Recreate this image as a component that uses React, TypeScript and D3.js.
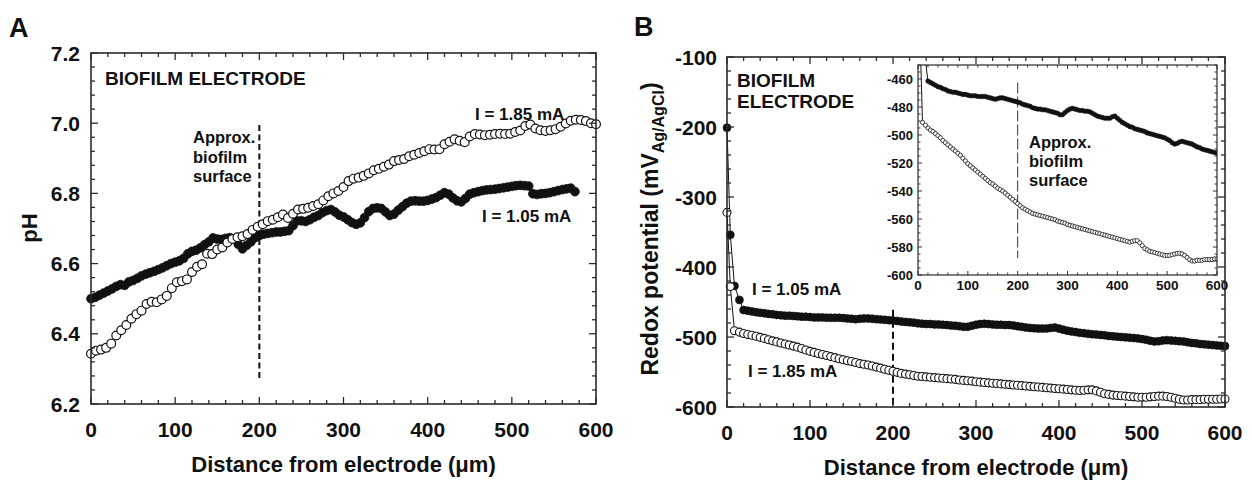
import React from "react";
import * as d3 from "d3";

const FONT = 'Arial, "Liberation Sans", Helvetica, sans-serif';

// ---------- Panel A: pH profiles ----------
const phOpenDistance = [
  0, 6, 12, 18, 24, 30, 36, 42, 48, 54,
  60, 66, 72, 78, 84, 90, 96, 102, 108, 114,
  120, 126, 132, 138, 144, 150, 156, 162, 168, 174,
  180, 186, 192, 198, 204, 210, 216, 222, 228, 234,
  240, 246, 252, 258, 264, 270, 276, 282, 288, 294,
  300, 306, 312, 318, 324, 330, 336, 342, 348, 354,
  360, 366, 372, 378, 384, 390, 396, 402, 408, 414,
  420, 426, 432, 438, 444, 450, 456, 462, 468, 474,
  480, 486, 492, 498, 504, 510, 516, 522, 528, 534,
  540, 546, 552, 558, 564, 570, 576, 582, 588, 594,
  600,
];
// I = 1.85 mA (open circles)
const phOpen = [
  6.343, 6.352, 6.355, 6.36, 6.372, 6.395, 6.41, 6.425, 6.443, 6.456,
  6.466, 6.485, 6.491, 6.49, 6.498, 6.508, 6.53, 6.547, 6.55, 6.555,
  6.576, 6.591, 6.598, 6.628, 6.627, 6.64, 6.646, 6.66, 6.67, 6.675,
  6.678, 6.684, 6.696, 6.705, 6.712, 6.721, 6.725, 6.732, 6.74, 6.73,
  6.742, 6.754, 6.756, 6.759, 6.764, 6.769, 6.78, 6.792, 6.8, 6.807,
  6.818, 6.835, 6.842, 6.845, 6.85, 6.857, 6.866, 6.87, 6.876, 6.882,
  6.892, 6.895, 6.898, 6.906, 6.91, 6.915, 6.92, 6.926, 6.925, 6.926,
  6.94, 6.947, 6.954, 6.95, 6.946, 6.962, 6.969, 6.968, 6.966, 6.967,
  6.969, 6.97, 6.969, 6.97, 6.975, 6.979, 6.992, 6.996, 6.985, 6.98,
  6.978, 6.98, 6.983, 6.99, 6.999, 7.007, 7.01, 7.009, 7.006, 7.0,
  6.997,
];
const phFilledDistance = [
  0, 5, 10, 15, 20, 25, 30, 35, 40, 45,
  50, 55, 60, 65, 70, 75, 80, 85, 90, 95,
  100, 105, 110, 115, 120, 125, 130, 135, 140, 145,
  150, 155, 160, 165, 170, 175, 180, 185, 190, 195,
  200, 205, 210, 215, 220, 225, 230, 235, 240, 245,
  250, 255, 260, 265, 270, 275, 280, 285, 290, 295,
  300, 305, 310, 315, 320, 325, 330, 335, 340, 345,
  350, 355, 360, 365, 370, 375, 380, 385, 390, 395,
  400, 405, 410, 415, 420, 425, 430, 435, 440, 445,
  450, 455, 460, 465, 470, 475, 480, 485, 490, 495,
  500, 505, 510, 515, 520, 525, 530, 535, 540, 545,
  550, 555, 560, 565, 570, 575,
];
// I = 1.05 mA (filled circles)
const phFilled = [
  6.5, 6.504, 6.51, 6.516, 6.522, 6.528, 6.535, 6.54, 6.538, 6.548,
  6.552, 6.558, 6.565, 6.57, 6.574, 6.578, 6.583, 6.588, 6.594, 6.6,
  6.604, 6.608, 6.615, 6.628, 6.635, 6.638, 6.645, 6.654, 6.662, 6.673,
  6.67, 6.669, 6.672, 6.674, 6.67, 6.655, 6.642, 6.652, 6.662, 6.674,
  6.68, 6.684, 6.686, 6.688, 6.69, 6.69, 6.692, 6.694, 6.708, 6.722,
  6.722, 6.72, 6.725, 6.732, 6.737, 6.745, 6.751, 6.754, 6.747, 6.738,
  6.733, 6.725, 6.717, 6.712, 6.716, 6.731, 6.748, 6.757, 6.759, 6.757,
  6.747, 6.737, 6.741, 6.752, 6.762, 6.772, 6.778, 6.779, 6.778, 6.778,
  6.78, 6.784, 6.788, 6.795, 6.802, 6.798, 6.787, 6.779, 6.776, 6.786,
  6.798, 6.802, 6.805, 6.808, 6.81, 6.811, 6.812, 6.814, 6.816, 6.818,
  6.82, 6.822, 6.823, 6.822, 6.821, 6.799, 6.797, 6.799, 6.8, 6.802,
  6.805, 6.808, 6.811, 6.813, 6.815, 6.805,
];
const phTicks = [6.2, 6.4, 6.6, 6.8, 7.0, 7.2];
const phTickLabels = ["6.2", "6.4", "6.6", "6.8", "7.0", "7.2"];
const distanceTicks = [0, 100, 200, 300, 400, 500, 600];
const distanceTickLabels = ["0", "100", "200", "300", "400", "500", "600"];

// ---------- Panel B: redox potential profiles ----------
const redoxDistance = [
  0, 4, 9, 15,
  20, 25, 30, 35, 40, 45, 50, 55, 60, 65,
  70, 75, 80, 85, 90, 95, 100, 105, 110, 115,
  120, 125, 130, 135, 140, 145, 150, 155, 160, 165,
  170, 175, 180, 185, 190, 195, 200, 205, 210, 215,
  220, 225, 230, 235, 240, 245, 250, 255, 260, 265,
  270, 275, 280, 285, 290, 295, 300, 305, 310, 315,
  320, 325, 330, 335, 340, 345, 350, 355, 360, 365,
  370, 375, 380, 385, 390, 395, 400, 405, 410, 415,
  420, 425, 430, 435, 440, 445, 450, 455, 460, 465,
  470, 475, 480, 485, 490, 495, 500, 505, 510, 515,
  520, 525, 530, 535, 540, 545, 550, 555, 560, 565,
  570, 575, 580, 585, 590, 595, 600,
];
// I = 1.05 mA (filled)
const redoxFilled = [
  -201, -354, -427, -447,
  -461.5, -462.5, -463.5, -464.5, -465.5, -466, -467, -467.5, -468.5, -469,
  -469.5, -469.5, -470, -470.5, -471, -471, -471.5, -472, -472, -472,
  -472.5, -472.5, -472.5, -472.5, -473, -473.5, -474, -474.5, -474, -473.5,
  -473.5, -474, -474.5, -475, -475.5, -476, -476.5, -477, -478, -478.5,
  -479, -479.5, -480.5, -481, -481.5, -481.5, -482, -482, -482.5, -483,
  -483.5, -484, -484.5, -485.5, -485.5, -484, -482.5, -481.5, -481, -481.5,
  -482, -482.5, -482.5, -483, -483, -483.5, -484.5, -485.5, -486.5, -487,
  -487.5, -488, -488, -488, -487, -486.5, -488, -489.5, -491, -492,
  -493, -494, -494.5, -495.5, -496, -496.5, -497, -497.5, -498.5, -499,
  -499.5, -500, -500.5, -501, -501.5, -502, -503, -504, -505.5, -506.5,
  -506, -505, -504.5, -505, -505.5, -506, -506.5, -507.5, -508.5, -509,
  -510, -510.5, -511, -511.5, -512, -512.5, -513,
];
// I = 1.85 mA (open)
const redoxOpen = [
  -322, -428, -491, -493,
  -495, -496.5, -497.5, -499, -500.5, -502, -504, -505.5, -507, -508.5,
  -510, -511.5, -513, -514.5, -516.5, -518.5, -520.5, -522, -523.5, -525,
  -526.5, -528, -529.5, -531, -532.5, -534, -535, -536.5, -538, -539,
  -540, -541.5, -543, -544.5, -546, -547.5, -549, -550.5, -552, -553,
  -554, -555, -556, -556.5, -557, -557.5, -558, -558.5, -559, -559.5,
  -560, -560.5, -561.5, -562, -562.5, -563, -564, -564.5, -565, -565.5,
  -566, -566.5, -567, -567.5, -568, -568.5, -569, -569.5, -570, -570.5,
  -571, -571.5, -572, -572.5, -573, -573.5, -574, -574.5, -575, -575.5,
  -576, -576.5, -576, -575.5, -575.5, -577, -579, -581, -582, -583,
  -583.5, -584, -584.5, -585, -585.5, -586, -586, -586, -585.5, -585,
  -584.5, -584.5, -585, -586, -587.5, -589, -590, -590, -589.5, -589.5,
  -589.5, -589, -589, -589, -589, -588.5, -588.5,
];
const redoxTicks = [-600, -500, -400, -300, -200, -100];
const redoxTickLabels = ["-600", "-500", "-400", "-300", "-200", "-100"];
const insetTicks = [-600, -580, -560, -540, -520, -500, -480, -460];
const insetTickLabels = ["-600", "-580", "-560", "-540", "-520", "-500", "-480", "-460"];

type Pt = [number, number];
const zip = (xs: number[], ys: number[]): Pt[] =>
  ys.slice(0, Math.min(xs.length, ys.length)).map((v, i) => [xs[i], v] as Pt);

type FrameProps = {
  xs: d3.ScaleLinear<number, number>;
  ys: d3.ScaleLinear<number, number>;
  xMajor: number[];
  xMinor: number[];
  yMajor: number[];
  yMinor: number[];
  majLen: number;
  minLen: number;
  sw: number;
};

function Frame({ xs, ys, xMajor, xMinor, yMajor, yMinor, majLen, minLen, sw }: FrameProps) {
  const [x0, x1] = xs.range();
  const [y0, y1] = ys.range();
  const stroke = "#2a2a2a";
  const lines: JSX.Element[] = [];
  const add = (v: number, len: number, axis: "x" | "y", k: string) => {
    if (axis === "x") {
      const p = xs(v);
      lines.push(<line key={k + "b"} x1={p} x2={p} y1={y0} y2={y0 - len} />);
      lines.push(<line key={k + "t"} x1={p} x2={p} y1={y1} y2={y1 + len} />);
    } else {
      const p = ys(v);
      lines.push(<line key={k + "l"} x1={x0} x2={x0 + len} y1={p} y2={p} />);
      lines.push(<line key={k + "r"} x1={x1} x2={x1 - len} y1={p} y2={p} />);
    }
  };
  xMajor.forEach((v, i) => add(v, majLen, "x", "xM" + i));
  xMinor.forEach((v, i) => add(v, minLen, "x", "xm" + i));
  yMajor.forEach((v, i) => add(v, majLen, "y", "yM" + i));
  yMinor.forEach((v, i) => add(v, minLen, "y", "ym" + i));
  return (
    <g stroke={stroke} strokeWidth={sw * 0.8}>
      {lines}
      <rect x={x0} y={y1} width={x1 - x0} height={y0 - y1} fill="none" strokeWidth={sw} />
    </g>
  );
}

const notIn = (arr: number[], majors: number[]) =>
  arr.filter((v) => !majors.some((m) => Math.abs(m - v) < 1e-6));

export default function App() {
  // scales
  const ax = d3.scaleLinear().domain([0, 600]).range([91, 596]);
  const ay = d3.scaleLinear().domain([6.2, 7.2]).range([404, 53]);
  const bx = d3.scaleLinear().domain([0, 600]).range([727, 1225]);
  const by = d3.scaleLinear().domain([-600, -100]).range([407, 57]);
  const ix = d3.scaleLinear().domain([0, 600]).range([918, 1217]);
  const iy = d3.scaleLinear().domain([-600, -450]).range([275, 65]);

  const phOpenPts = zip(phOpenDistance, phOpen);
  const phFilledPts = zip(phFilledDistance, phFilled);
  const rFilledPts = zip(redoxDistance, redoxFilled);
  const rOpenPts = zip(redoxDistance, redoxOpen);

  const distMinor = notIn(ax.ticks(30), distanceTicks);
  const phMinor = notIn(d3.range(0, 26).map((i) => 6.2 + i * 0.04), phTicks);
  const redoxMinor = notIn(by.ticks(25), redoxTicks);
  const insetMinorY = notIn(iy.ticks(30), insetTicks);

  const lineB = d3.line<Pt>().x((d) => bx(d[0])).y((d) => by(d[1]));
  const lineI = d3.line<Pt>().x((d) => ix(d[0])).y((d) => iy(d[1]));

  const bold = { fontFamily: FONT, fontWeight: 700 as const, fill: "#111" };

  return (
    <svg
      width={1252}
      height={485}
      viewBox="0 0 1252 485"
      style={{ position: "absolute", left: 0, top: 0, background: "#fff", display: "block" }}
    >
      <rect x={0} y={0} width={1252} height={485} fill="#fff" />

      {/* ================= Panel A ================= */}
      <text x={9} y={37} fontSize={27} {...bold}>A</text>

      {/* dashed biofilm surface line */}
      <line
        x1={ax(200)} x2={ax(200)} y1={ay(6.995)} y2={ay(6.27)}
        stroke="#111" strokeWidth={2} strokeDasharray="6,3.5"
      />

      {/* filled I=1.05 */}
      <g fill="#111" stroke="#111" strokeWidth={0.8}>
        {phFilledPts.map((d, i) => (
          <circle key={"af" + i} cx={ax(d[0])} cy={ay(d[1])} r={4.4} />
        ))}
      </g>
      {/* open I=1.85 */}
      <g fill="#fff" stroke="#111" strokeWidth={1.2}>
        {phOpenPts.map((d, i) => (
          <circle key={"ao" + i} cx={ax(d[0])} cy={ay(d[1])} r={4.4} />
        ))}
      </g>

      <Frame
        xs={ax} ys={ay}
        xMajor={distanceTicks} xMinor={distMinor}
        yMajor={phTicks} yMinor={phMinor}
        majLen={7} minLen={4} sw={1.6}
      />

      {phTicks.map((v, i) => (
        <text key={"ayl" + i} x={80} y={ay(v)} dy="0.36em" textAnchor="end" fontSize={21} {...bold}>
          {phTickLabels[i]}
        </text>
      ))}
      {distanceTicks.map((v, i) => (
        <text key={"axl" + i} x={ax(v)} y={437} textAnchor="middle" fontSize={21} {...bold}>
          {distanceTickLabels[i]}
        </text>
      ))}
      <text x={(91 + 596) / 2} y={472} textAnchor="middle" fontSize={22} {...bold}>
        Distance from electrode (μm)
      </text>
      <text transform="translate(37,228) rotate(-90)" textAnchor="middle" fontSize={22} {...bold}>
        pH
      </text>

      <text x={105} y={85} fontSize={19} {...bold}>BIOFILM ELECTRODE</text>
      <text fontSize={16.5} {...bold}>
        <tspan x={193} y={143}>Approx.</tspan>
        <tspan x={193} y={162.5}>biofilm</tspan>
        <tspan x={193} y={182}>surface</tspan>
      </text>
      <text x={475} y={120} fontSize={17} {...bold}>I = 1.85 mA</text>
      <text x={482} y={222} fontSize={17} {...bold}>I = 1.05 mA</text>

      {/* ================= Panel B ================= */}
      <text x={634} y={36} fontSize={27} {...bold}>B</text>

      <line
        x1={bx(200)} x2={bx(200)} y1={by(-461)} y2={by(-600)}
        stroke="#111" strokeWidth={2} strokeDasharray="7,4"
      />

      <path d={lineB(rFilledPts) || ""} fill="none" stroke="#111" strokeWidth={1} />
      <path d={lineB(rOpenPts) || ""} fill="none" stroke="#111" strokeWidth={1} />
      <g fill="#111" stroke="#111" strokeWidth={0.6}>
        {rFilledPts.map((d, i) => (
          <circle key={"bf" + i} cx={bx(d[0])} cy={by(d[1])} r={4} />
        ))}
      </g>
      <g fill="#fff" stroke="#111" strokeWidth={1.1}>
        {rOpenPts.map((d, i) => (
          <circle key={"bo" + i} cx={bx(d[0])} cy={by(d[1])} r={4} />
        ))}
      </g>

      <Frame
        xs={bx} ys={by}
        xMajor={distanceTicks} xMinor={distMinor}
        yMajor={redoxTicks} yMinor={redoxMinor}
        majLen={7} minLen={4} sw={1.6}
      />

      {redoxTicks.map((v, i) => (
        <text key={"byl" + i} x={717} y={by(v)} dy="0.36em" textAnchor="end" fontSize={21} {...bold}>
          {redoxTickLabels[i]}
        </text>
      ))}
      {distanceTicks.map((v, i) => (
        <text key={"bxl" + i} x={bx(v)} y={440} textAnchor="middle" fontSize={21} {...bold}>
          {distanceTickLabels[i]}
        </text>
      ))}
      <text x={(727 + 1225) / 2} y={475} textAnchor="middle" fontSize={22} {...bold}>
        Distance from electrode (μm)
      </text>
      <text transform="translate(658,229) rotate(-90)" textAnchor="middle" fontSize={23} {...bold}>
        Redox potential (mV
        <tspan fontSize={16} dy={6}>Ag/AgCl</tspan>
        <tspan dy={-6}>)</tspan>
      </text>

      <text fontSize={19} {...bold}>
        <tspan x={737} y={87}>BIOFILM</tspan>
        <tspan x={737} y={108}>ELECTRODE</tspan>
      </text>
      <text x={752} y={295} fontSize={17} {...bold}>I = 1.05 mA</text>
      <text x={748} y={377} fontSize={17} {...bold}>I = 1.85 mA</text>

      {/* ================= Inset ================= */}
      <defs>
        <clipPath id="insetClip">
          <rect x={918} y={65} width={299} height={210} />
        </clipPath>
      </defs>
      <rect x={918} y={65} width={299} height={210} fill="#fff" />
      <line
        x1={ix(200)} x2={ix(200)} y1={iy(-462.5)} y2={iy(-588)}
        stroke="#333" strokeWidth={1} strokeDasharray="11,3"
      />
      <g clipPath="url(#insetClip)">
        <path d={lineI(rFilledPts) || ""} fill="none" stroke="#111" strokeWidth={1} />
        <path d={lineI(rOpenPts) || ""} fill="none" stroke="#111" strokeWidth={1} />
        <g fill="#111" stroke="#111" strokeWidth={0.5}>
          {rFilledPts.map((d, i) => (
            <circle key={"if" + i} cx={ix(d[0])} cy={iy(d[1])} r={2.3} />
          ))}
        </g>
        <g fill="#fff" stroke="#111" strokeWidth={0.8}>
          {rOpenPts.map((d, i) => (
            <circle key={"io" + i} cx={ix(d[0])} cy={iy(d[1])} r={2.1} />
          ))}
        </g>
      </g>
      <Frame
        xs={ix} ys={iy}
        xMajor={distanceTicks} xMinor={distMinor}
        yMajor={insetTicks} yMinor={insetMinorY}
        majLen={4} minLen={2.5} sw={1.2}
      />
      {insetTicks.map((v, i) => (
        <text key={"iyl" + i} x={913} y={iy(v)} dy="0.36em" textAnchor="end" fontSize={13} {...bold}>
          {insetTickLabels[i]}
        </text>
      ))}
      {distanceTicks.map((v, i) => (
        <text key={"ixl" + i} x={ix(v)} y={290} textAnchor="middle" fontSize={13.5} {...bold}>
          {distanceTickLabels[i]}
        </text>
      ))}
      <text fontSize={16.5} {...bold}>
        <tspan x={1029} y={148}>Approx.</tspan>
        <tspan x={1029} y={167}>biofilm</tspan>
        <tspan x={1029} y={186}>surface</tspan>
      </text>
    </svg>
  );
}
